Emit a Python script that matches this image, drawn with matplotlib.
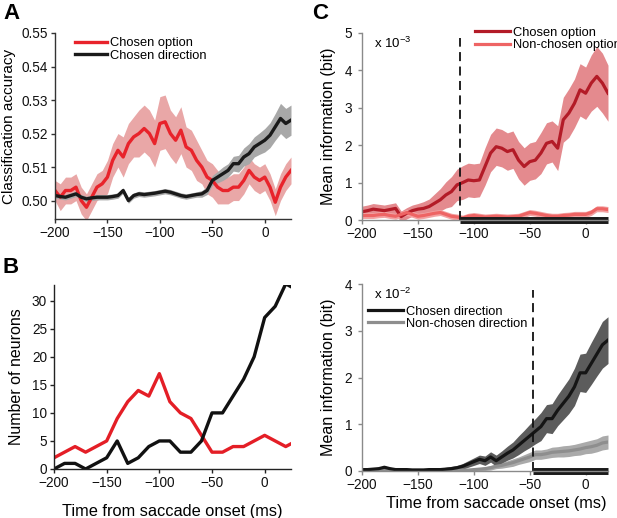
import numpy as np
import matplotlib
matplotlib.use("Agg")
import matplotlib.pyplot as plt

plt.rcParams['font.family'] = ['Liberation Sans', 'DejaVu Sans']
plt.rcParams['mathtext.fontset'] = 'custom'
plt.rcParams['mathtext.rm'] = 'Liberation Sans'

# ---------------- Panel A data (time in ms, 5 ms steps) ----------------
tA = np.arange(-200, 26, 5)
a_opt = [0.503, 0.501, 0.503, 0.503, 0.504, 0.500, 0.498, 0.501, 0.504, 0.505,
         0.507, 0.512, 0.515, 0.513, 0.517, 0.519, 0.520, 0.5215, 0.520, 0.517,
         0.523, 0.5235, 0.520, 0.518, 0.521, 0.516, 0.515, 0.512, 0.510, 0.507,
         0.506, 0.504, 0.503, 0.503, 0.504, 0.504, 0.506, 0.509, 0.507, 0.506,
         0.507, 0.504, 0.4995, 0.504, 0.507, 0.509]
a_opt_err = [0.003, 0.004, 0.004, 0.004, 0.004, 0.004, 0.004, 0.004, 0.004, 0.004,
             0.005, 0.005, 0.005, 0.006, 0.006, 0.006, 0.007, 0.007, 0.007, 0.007,
             0.008, 0.008, 0.007, 0.007, 0.007, 0.006, 0.006, 0.006, 0.005, 0.005,
             0.005, 0.005, 0.004, 0.004, 0.004, 0.004, 0.004, 0.004, 0.004, 0.004,
             0.004, 0.004, 0.004, 0.004, 0.004, 0.004]
a_dir = [0.5015, 0.5012, 0.501, 0.5015, 0.502, 0.501, 0.5005, 0.5008, 0.501, 0.501,
         0.501, 0.5012, 0.5015, 0.503, 0.500, 0.5015, 0.502, 0.5018, 0.502, 0.5022,
         0.5025, 0.5028, 0.5025, 0.502, 0.5015, 0.5012, 0.5015, 0.5018, 0.502, 0.503,
         0.506, 0.507, 0.508, 0.509, 0.511, 0.511, 0.513, 0.514, 0.516, 0.517,
         0.518, 0.5195, 0.522, 0.5245, 0.523, 0.524]
a_dir_err = [0.0008] * 28 + [0.001, 0.0012, 0.0015, 0.0017, 0.002, 0.002, 0.0022, 0.0025,
                              0.0027, 0.003, 0.003, 0.0032, 0.0035, 0.0037, 0.004, 0.0045,
                              0.0045, 0.0045]

# ---------------- Panel B data (10 ms steps) ----------------
tB = np.arange(-200, 31, 10)
b_opt = [2, 3, 4, 3, 4, 5, 9, 12, 14, 13, 17, 12, 10, 9, 6, 3, 3, 4, 4, 5, 6, 5, 4, 5]
b_dir = [0, 1, 1, 0, 1, 2, 5, 1, 2, 4, 5, 5, 3, 3, 5, 10, 10, 13, 16, 20, 27, 29, 33, 32]

# ---------------- Panel C top data (x 10^-3 bit) ----------------
tC = np.arange(-200, 21, 5)
c_opt = [0.22, 0.25, 0.29, 0.27, 0.25, 0.28, 0.31, 0.09, 0.18, 0.25,
         0.29, 0.31, 0.36, 0.45, 0.54, 0.67, 0.76, 0.94, 1.0, 1.07,
         1.05, 1.07, 1.43, 1.79, 1.96, 1.92, 1.83, 1.88, 1.6, 1.43,
         1.56, 1.6, 1.79, 2.05, 2.1, 1.92, 2.68, 2.86, 3.12, 3.48,
         3.39, 3.66, 3.84, 3.66, 3.39]
c_opt_err = [0.15, 0.15, 0.15, 0.15, 0.15, 0.15, 0.15, 0.15, 0.15, 0.15,
             0.15, 0.18, 0.2, 0.25, 0.3, 0.35, 0.4, 0.42, 0.45, 0.45,
             0.45, 0.45, 0.5, 0.5, 0.5, 0.5, 0.5, 0.5, 0.5, 0.5,
             0.5, 0.5, 0.55, 0.55, 0.55, 0.6, 0.6, 0.65, 0.65, 0.7,
             0.7, 0.75, 0.8, 0.8, 0.75]
c_non = [0.12, 0.12, 0.12, 0.14, 0.15, 0.12, 0.1, 0.15, 0.2, 0.15,
         0.1, 0.12, 0.15, 0.18, 0.2, 0.15, 0.1, 0.08, 0.05, 0.1,
         0.12, 0.1, 0.08, 0.09, 0.1, 0.09, 0.08, 0.09, 0.1, 0.15,
         0.2, 0.18, 0.15, 0.12, 0.1, 0.1, 0.12, 0.13, 0.15, 0.15,
         0.15, 0.2, 0.3, 0.3, 0.28]
c_non_err = [0.08] * 45

# ---------------- Panel C bottom data (x 10^-2 bit) ----------------
d_dir = [0.03, 0.03, 0.04, 0.05, 0.08, 0.05, 0.03, 0.03, 0.03, 0.02,
         0.02, 0.02, 0.03, 0.03, 0.03, 0.04, 0.05, 0.07, 0.1, 0.15,
         0.2, 0.25, 0.22, 0.3, 0.22, 0.3, 0.38, 0.45, 0.55, 0.65,
         0.75, 0.85, 0.95, 1.12, 1.12, 1.3, 1.45, 1.6, 1.8, 2.1,
         2.1, 2.3, 2.5, 2.7, 2.8]
d_dir_err = [0.03] * 15 + [0.04, 0.05, 0.05, 0.06, 0.07, 0.08, 0.09, 0.1, 0.11, 0.12,
                           0.13, 0.15, 0.17, 0.2, 0.22, 0.25, 0.27, 0.3, 0.3, 0.32,
                           0.33, 0.35, 0.37, 0.4, 0.4, 0.42, 0.45, 0.47, 0.5, 0.5]
d_non = [0.02] * 20 + [0.03, 0.04, 0.05, 0.07, 0.1, 0.12, 0.15, 0.18, 0.22, 0.26,
                       0.3, 0.35, 0.35, 0.37, 0.4, 0.41, 0.42, 0.43, 0.45, 0.47,
                       0.5, 0.52, 0.55, 0.6, 0.62]
d_non_err = [0.02] * 20 + [0.03, 0.03, 0.04, 0.05, 0.05, 0.06, 0.07, 0.08, 0.08, 0.09,
                           0.1, 0.1, 0.1, 0.1, 0.11, 0.11, 0.12, 0.12, 0.12, 0.13,
                           0.13, 0.14, 0.14, 0.15, 0.15]

onset_top = -112
onset_bot = -47

xticks = [-200, -150, -100, -50, 0]
xticklabels = ['\u2212200', '\u2212150', '\u2212100', '\u221250', '0']

W, H = 617, 518
fig = plt.figure(figsize=(W / 100, H / 100), dpi=100)

TICK_FS = 9.8
LEG_FS = 9.3

def box(l, t, r, b):
    return [l / W, 1 - b / H, (r - l) / W, (b - t) / H]

def style(ax, spine_color):
    for s in ['top', 'right']:
        ax.spines[s].set_visible(False)
    for s in ['left', 'bottom']:
        ax.spines[s].set_color(spine_color)
        ax.spines[s].set_linewidth(1.0)
    ax.tick_params(direction='out', length=3, width=1, labelsize=TICK_FS,
                   color=spine_color, pad=2, labelcolor='#111111')

# ---- Panel A ----
axA = fig.add_axes(box(55, 33, 291, 219))
style(axA, '#333333')
ea = np.array(a_opt_err); ed = np.array(a_dir_err)
axA.fill_between(tA, np.array(a_opt) - ea, np.array(a_opt) + ea, color='#e9a7a7', lw=0)
axA.fill_between(tA, np.array(a_dir) - ed, np.array(a_dir) + ed, color='#a8a8a8', lw=0)
axA.plot(tA, a_opt, color='#e8232b', lw=2.4, label='Chosen option')
axA.plot(tA, a_dir, color='#1a1a1a', lw=2.4, label='Chosen direction')
axA.set_xlim(-200, 25)
axA.set_ylim(0.4945, 0.55)
axA.set_yticks([0.50, 0.51, 0.52, 0.53, 0.54, 0.55])
axA.set_yticklabels(['0.50', '0.51', '0.52', '0.53', '0.54', '0.55'])
axA.set_xticks(xticks)
axA.set_xticklabels(xticklabels)
axA.set_ylabel('Classification accuracy', fontsize=11, labelpad=4)
axA.legend(loc='upper left', bbox_to_anchor=(0.05, 1.02), frameon=False, fontsize=LEG_FS,
           handlelength=2.5, handletextpad=0.25, labelspacing=0.05, borderaxespad=0.2)

# ---- Panel B ----
axB = fig.add_axes(box(54, 285, 291, 469))
style(axB, '#222222')
axB.plot(tB, b_opt, color='#e41e26', lw=2.4)
axB.plot(tB, b_dir, color='#111111', lw=2.4)
axB.set_xlim(-200, 25)
axB.set_ylim(0, 32.8)
axB.set_yticks([0, 5, 10, 15, 20, 25, 30])
axB.set_xticks(xticks)
axB.set_xticklabels(xticklabels)
axB.set_ylabel('Number of neurons', fontsize=11.5, labelpad=6)
axB.set_xlabel('Time from saccade onset (ms)', fontsize=11.8, labelpad=10)

# ---- Panel C top ----
axC = fig.add_axes(box(362, 33, 608, 220))
style(axC, '#8a8a8a')
eo = np.array(c_opt_err); en = np.array(c_non_err)
axC.fill_between(tC, np.array(c_opt) - eo, np.array(c_opt) + eo, color='#e48a8e', lw=0)
axC.fill_between(tC, np.clip(np.array(c_non) - en, 0, None), np.array(c_non) + en,
                 color='#f3a3a3', lw=0)
axC.plot(tC, c_opt, color='#b31b27', lw=2.3, label='Chosen option')
axC.plot(tC, c_non, color='#ee6464', lw=2.3, label='Non-chosen option')
axC.plot([onset_top, onset_top], [0, 4.87], color='#111111', lw=1.3, ls=(0, (5, 3)))
axC.plot([onset_top, 20], [0, 0], color='#1a1a1a', lw=5, solid_capstyle='butt', clip_on=False)
axC.set_xlim(-200, 20)
axC.set_ylim(0, 5)
axC.set_yticks([0, 1, 2, 3, 4, 5])
axC.set_xticks(xticks)
axC.set_xticklabels(xticklabels)
axC.tick_params(axis='y', pad=4)
axC.set_ylabel('Mean information (bit)', fontsize=11.6, labelpad=6)
axC.text(0.05, 0.985, 'x 10$^{-3}$', transform=axC.transAxes, fontsize=9.5, va='top', ha='left')
axC.legend(loc='upper left', bbox_to_anchor=(0.44, 1.06), frameon=False, fontsize=LEG_FS,
           handlelength=2.7, handletextpad=0.2, labelspacing=0.0, borderaxespad=0.0)

# ---- Panel C bottom ----
axD = fig.add_axes(box(362, 284, 608, 471))
style(axD, '#8a8a8a')
e1 = np.array(d_dir_err); e2 = np.array(d_non_err)
axD.fill_between(tC, np.clip(np.array(d_non) - e2, 0, None), np.array(d_non) + e2,
                 color='#aaaaaa', lw=0)
axD.fill_between(tC, np.clip(np.array(d_dir) - e1, 0, None), np.array(d_dir) + e1,
                 color='#5c5c5c', lw=0)
axD.plot(tC, d_non, color='#8e8e8e', lw=2.3, label='Non-chosen direction')
axD.plot(tC, d_dir, color='#151515', lw=2.3, label='Chosen direction')
axD.plot([onset_bot, onset_bot], [0, 3.88], color='#111111', lw=1.3, ls=(0, (5, 3)))
axD.plot([onset_bot, 20], [0, 0], color='#1a1a1a', lw=5, solid_capstyle='butt', clip_on=False)
axD.set_xlim(-200, 20)
axD.set_ylim(0, 4)
axD.set_yticks([0, 1, 2, 3, 4])
axD.set_xticks(xticks)
axD.set_xticklabels(xticklabels)
axD.tick_params(axis='y', pad=4)
axD.set_ylabel('Mean information (bit)', fontsize=11.6, labelpad=6)
axD.set_xlabel('Time from saccade onset (ms)', fontsize=11.8)
axD.xaxis.set_label_coords(0.545, -0.135)
axD.text(0.05, 0.985, 'x 10$^{-2}$', transform=axD.transAxes, fontsize=9.5, va='top', ha='left')
h, l = axD.get_legend_handles_labels()
leg = axD.legend(h[::-1], l[::-1], loc='upper left', bbox_to_anchor=(0.02, 0.89),
                 frameon=True, fontsize=LEG_FS, handlelength=2.7, handletextpad=0.2,
                 labelspacing=0.0, borderaxespad=0.0, borderpad=0.1, fancybox=False)
leg.get_frame().set_facecolor('white')
leg.get_frame().set_edgecolor('none')
leg.get_frame().set_alpha(1)

# ---- Panel letters ----
fig.text(3 / W, 1 - 3 / H, 'A', fontsize=16, fontweight='bold', va='top', ha='left')
fig.text(3 / W, 1 - 257 / H, 'B', fontsize=16, fontweight='bold', va='top', ha='left')
fig.text(312 / W, 1 - 3 / H, 'C', fontsize=16, fontweight='bold', va='top', ha='left')

fig.savefig('out.png', dpi=100)
